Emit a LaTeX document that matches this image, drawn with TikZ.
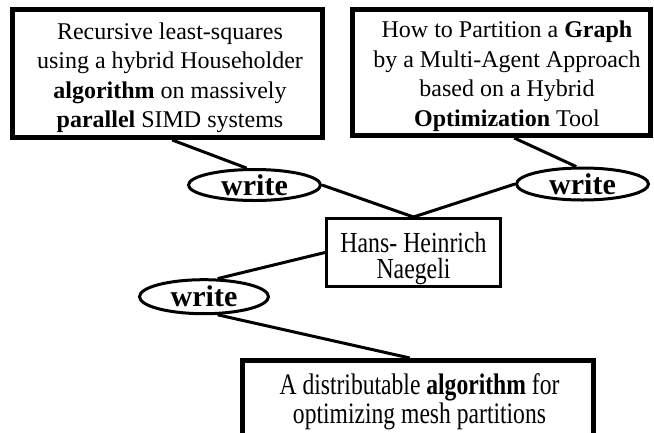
\documentclass[tikz,border=0pt]{standalone}
\usepackage{fontspec}
\setmainfont{Liberation Serif}
\usetikzlibrary{shapes.geometric,calc}
\usepackage{graphicx}

% centred lines set on the current baselineskip, stretched vertically by #1
\newcommand\linesbox[2]{\scalebox{1}[#1]{\vbox{\halign{\hfil##\hfil\cr#2\crcr}}}}

\begin{document}
\begin{tikzpicture}[x=1pt,y=-1pt,
  paper/.style={draw, line width=5pt, inner sep=0pt},
  authorbox/.style={draw, line width=3pt, inner sep=0pt},
  rel/.style={ellipse, draw, line width=3pt, inner sep=0pt,
    minimum width=132pt, minimum height=31pt,
    font=\fontsize{30}{30}\selectfont\bfseries},
  txt/.style={inner sep=0pt, anchor=north},
  link/.style={line width=3pt}]

\fill[white] (0,0) rectangle (654,432);
\useasboundingbox (0,0) rectangle (654,432);

% paper boxes
\node[paper, minimum width=310pt, minimum height=128pt] (b1) at (167.5,73.5) {};
\node[txt, font=\fontsize{24}{29.5}\selectfont] (t1) at (170,22.6)
  {\linesbox{1}{Recursive least-squares\cr using a hybrid Householder\cr
   \textbf{algorithm} on massively\cr \textbf{parallel} SIMD systems}};

\node[paper, minimum width=298pt, minimum height=126pt] (b2) at (501.5,72.5) {};
\node[txt, font=\fontsize{24}{29.5}\selectfont] (t2) at (507,20.8)
  {\linesbox{1}{How to Partition a \textbf{Graph}\cr by a Multi-Agent Approach\cr
   based on a Hybrid\cr \textbf{Optimization} Tool}};

\node[paper, minimum width=351pt, minimum height=81pt] (b3) at (418,401) {};
\node[txt, font=\fontsize{23.6}{20}\selectfont] (t3) at (419.5,373.5)
  {\linesbox{1.26}{A distributable \textbf{algorithm} for\cr optimizing mesh partitions}};

% author box, its name set a little below the middle
\node[authorbox, minimum width=174pt, minimum height=68pt,
      font=\fontsize{23.8}{22}\selectfont] (hh) at (413.5,252.5)
  {\raisebox{-6pt}[\height][\depth]{\linesbox{1.22}{Hans- Heinrich\cr Naegeli}}};

% relations
\node[rel] (e1) at (254.5,185) {write};
\node[rel, minimum height=32pt] (e2) at (582.5,184) {write};
\node[rel, minimum width=129pt, minimum height=34pt] (e3) at (204,296.7) {write};

% connectors
\draw[link] ($(b1.south west)!0.515!(b1.south east)$) -- (e1.115);
\draw[link] ($(b2.south west)!0.542!(b2.south east)$) -- (e2.110);
\draw[link] (e1.east) -- (hh.north);
\draw[link] (e2.west) -- (hh.north);
\draw[link] (hh.west) -- (e3.53);
\draw[link] (e3.-53) -- ($(b3.north west)!0.477!(b3.north east)$);
\end{tikzpicture}
\end{document}
